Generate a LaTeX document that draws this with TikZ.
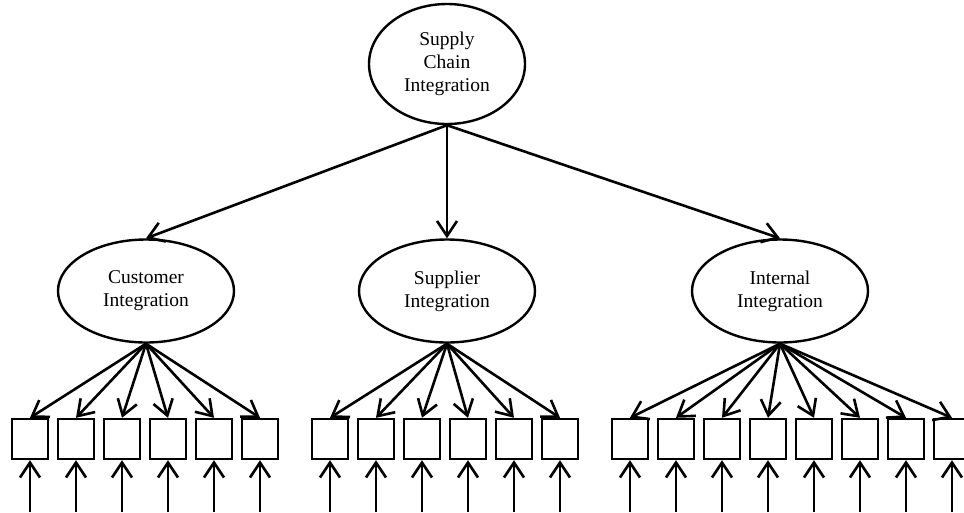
\documentclass[tikz,border=0pt]{standalone}
\usepackage{fontspec}
\setmainfont{Liberation Serif}
\usetikzlibrary{shapes.geometric,arrows.meta}
\begin{document}
\begin{tikzpicture}[x=1pt,y=-1pt,
  latent/.style={draw,ellipse,line width=2.4pt,inner sep=0pt,align=center,
    font=\fontsize{19.5}{23}\selectfont},
  indicator/.style={draw,rectangle,line width=2.4pt,minimum width=36pt,minimum height=40pt,inner sep=0pt},
  path/.style={line width=2.6pt,-{Straight Barb[length=15pt,width=20pt,line width=2.6pt]}}]
\useasboundingbox (0,0) rectangle (964,512);

% second-order factor
\node[latent,minimum width=156pt,minimum height=120pt] (sci) at (447,64) {Supply\\Chain\\Integration};

% first-order factors
\node[latent,minimum width=176pt,minimum height=103pt] (cust) at (146,291) {Customer\\Integration};
\node[latent,minimum width=176pt,minimum height=103pt] (supp) at (447,291) {Supplier\\Integration};
\node[latent,minimum width=176pt,minimum height=103pt] (intl) at (780,291) {Internal\\Integration};

\draw[path] (sci.south) -- (cust.north);
\draw[path] (sci.south) -- (supp.north);
\draw[path] (sci.south) -- (intl.north);

% indicators with their error terms
\foreach \i in {0,...,5}{
  \node[indicator] (c\i) at ({30+46*\i},439) {};
  \coordinate (ce\i) at ({30+46*\i},512);
  \draw[path] (cust.south) -- (c\i.north);
  \draw[path] (ce\i) -- (c\i.south);
}
\foreach \i in {0,...,5}{
  \node[indicator] (s\i) at ({330+46*\i},439) {};
  \coordinate (se\i) at ({330+46*\i},512);
  \draw[path] (supp.south) -- (s\i.north);
  \draw[path] (se\i) -- (s\i.south);
}
\foreach \i in {0,...,7}{
  \node[indicator] (n\i) at ({630+46*\i},439) {};
  \coordinate (ne\i) at ({630+46*\i},512);
  \draw[path] (intl.south) -- (n\i.north);
  \draw[path] (ne\i) -- (n\i.south);
}
\end{tikzpicture}
\end{document}
